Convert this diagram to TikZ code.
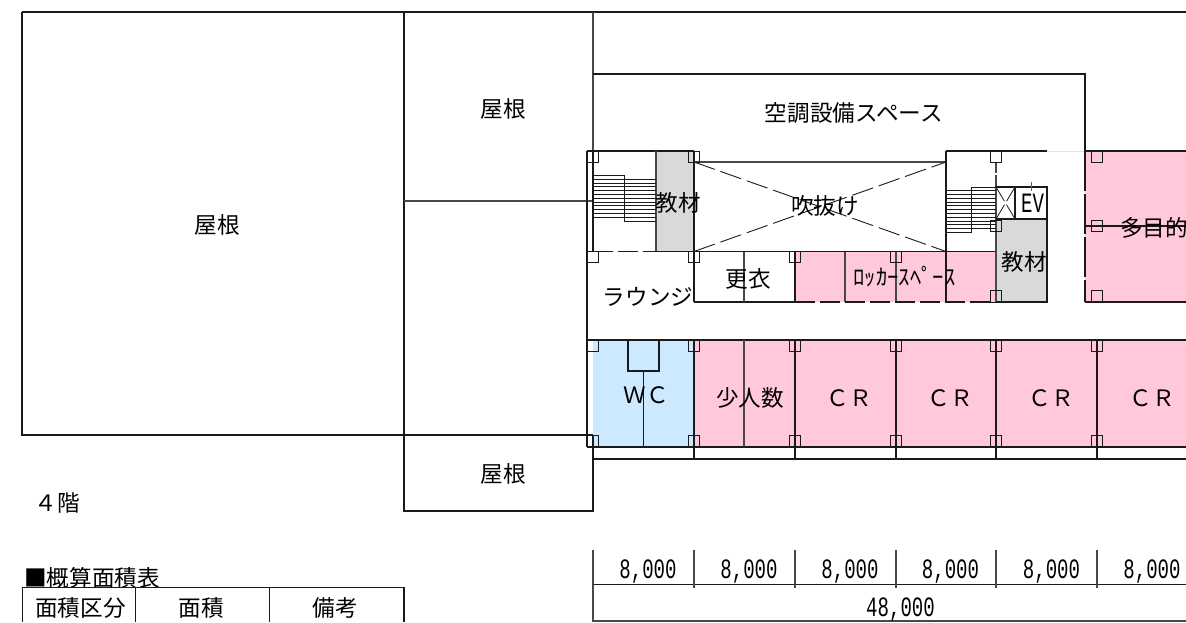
\documentclass[tikz,border=0pt]{standalone}
\usepackage{fontspec}
\setmainfont{Noto Sans CJK JP}
\newfontfamily\narrowfont[FakeStretch=0.68]{Liberation Mono}
\definecolor{roompink}{HTML}{FFC8DD}
\definecolor{roomblue}{HTML}{CCE9FF}
\definecolor{roomgray}{HTML}{D9D9D9}
\definecolor{ink}{HTML}{1A1A1A}
\tikzset{
  wall/.style={draw=ink,line width=1.15pt},
  thin wall/.style={draw=ink!80,line width=1.05pt},
  dashwall/.style={draw=ink,line width=1.15pt,dash pattern=on 20pt off 5pt},
  voidline/.style={draw=ink,line width=0.9pt,dash pattern=on 22pt off 6pt},
  column/.style={draw=ink,line width=1pt},
  stairline/.style={draw=ink,line width=0.85pt},
  label/.style={inner sep=0pt,font=\fontsize{22.6}{22}\selectfont,text=black},
  dimlabel/.style={inner sep=0pt,font=\narrowfont\fontsize{28}{28}\selectfont,text=black},
}
\newcommand{\colsq}[2]{\draw[column] (#1-5.7,#2) rectangle (#1+5.7,#2+11.3);}
\begin{document}
\begin{tikzpicture}[x=1pt,y=-1pt]
\useasboundingbox (0,0) rectangle (1186,622);
\clip (0,0) rectangle (1186,622);
% fills
\fill[roomgray] (656,151) rectangle (694,251.5);
\fill[roomgray] (996,219) rectangle (1047,302);
\fill[roompink] (795,251.5) rectangle (996,302);
\fill[roompink] (1085,151) rectangle (1186,302);
\fill[roomblue] (593,340) rectangle (694,447);
\fill[roompink] (694,340) rectangle (1186,447);
% roof outlines
\draw[wall] (22,12) -- (1186,12);
\draw[wall] (22,12) -- (22,435) -- (593,435);
\draw[wall] (404,12) -- (404,511) -- (593,511) -- (593,435);
\draw[thin wall] (593,12) -- (593,151);
\draw[thin wall] (404,201) -- (593,201);
\draw[wall] (593,74) -- (1085,74) -- (1085,151);
% core left
\draw[wall] (587,151) -- (694,151);
\draw[wall] (587,151) -- (587,447);
\draw[wall] (593,151) -- (593,251.5);
\draw[thin wall] (656,151) -- (656,251.5);
\draw[wall] (694,151) -- (694,302);
\draw[dashwall] (593,251.5) -- (656,251.5);
\draw[wall] (656,251.5) -- (996,251.5);
% atrium
\draw[thin wall] (694,162) -- (946,162);
\draw[voidline] (694,162) -- (946,251.5);
\draw[voidline] (694,251.5) -- (946,162);
% left stair
\foreach \yy in {179.3,183.1,186.9,190.7,194.5,198.3,202.1,205.9,209.7,213.5,217.3} {\draw[stairline] (593,\yy) -- (656,\yy);}
\draw[stairline] (593,175.7) -- (624,175.7) -- (624,221.3) -- (656,221.3);
% changing room and lockers
\draw[wall] (694,302) -- (795,302);
\draw[thin wall] (744,251.5) -- (744,302);
\draw[wall] (795,251.5) -- (795,302);
\draw[thin wall] (845,251.5) -- (845,302);
\draw[thin wall] (896,251.5) -- (896,302);
\draw[dashwall] (795,302) -- (996,302);
% right core
\draw[wall] (946,151) -- (1047,151);
\draw[draw=ink!12,line width=1pt] (1047,151) -- (1085,151);
\draw[wall] (946,151) -- (946,302);
\draw[thin wall,dash pattern=on 11pt off 2pt on 130pt] (996,162) -- (996,302);
\draw[wall] (996,187) -- (1047,187) -- (1047,302) -- (996,302);
\draw[wall] (996,219) -- (1047,219);
\draw[wall] (1015,187) -- (1015,219);
\draw[draw=ink,line width=0.8pt,dash pattern=on 16.5pt off 4pt] (996,187) -- (1015,219);
\draw[draw=ink,line width=0.8pt,dash pattern=on 16.5pt off 4pt] (1015,187) -- (996,219);
\draw[draw=ink!70,line width=0.9pt] (1031,182) -- (1031,191);
% right stair
\foreach \yy in {190.7,194.5,198.3,202.1,205.9,209.7,213.5,217.3,221.1,224.9,228.7} {\draw[stairline] (946,\yy) -- (996,\yy);}
\draw[stairline] (996,187) -- (971,187) -- (971,232.4) -- (946,232.4);
% multipurpose
\draw[wall] (1085,151) -- (1186,151);
\draw[wall] (1085,302) -- (1186,302);
\draw[wall,dash pattern=on 40pt off 3pt] (1085,151) -- (1085,302);
\draw[wall] (1085,226) -- (1186,226);
% class row
\draw[wall] (587,340) -- (1186,340);
\draw[wall] (587,447) -- (1186,447);
\draw[wall] (593,459) -- (1186,459);
\draw[wall] (593,435) -- (593,459);
\foreach \xx in {694,795,896,996,1097} {\draw[wall] (\xx,340) -- (\xx,459);}
\draw[thin wall] (744,340) -- (744,447);
\draw[wall] (628,340) rectangle (659,371);
\draw[wall] (643.5,371) -- (643.5,447);
% columns
\foreach \xx in {593,694,795,896,996,1097} {\colsq{\xx}{340}\colsq{\xx}{435.7}}
\foreach \xx in {593,694} {\colsq{\xx}{151}\colsq{\xx}{251.5}}
\colsq{795}{251.5}\colsq{896}{251.5}
\colsq{996}{151}\colsq{996}{220.5}\colsq{996}{290.7}
\colsq{1097}{151}\colsq{1097}{220.5}\colsq{1097}{290.7}
% labels
\node[label] (roofa) at (217,225) {屋根};
\node[label] (roofb) at (503,109) {屋根};
\node[label] (roofc) at (503,474) {屋根};
\node[label] (plant) at (854,113) {空調設備スペース};
\node[label] (matl) at (678,203) {教材};
\node[label] (void) at (825,206) {吹抜け};
\node[label] (change) at (748,279) {更衣};
\node[label] (lounge) at (648,297) {ラウンジ};
\node[label] (locker) at (904.5,277) {ﾛｯｶｰｽﾍﾟｰｽ};
\node[label] (matr) at (1024.5,262) {教材};
\node[dimlabel] (ev) at (1032.5,203) {EV};
\node[label] (multi) at (1154,228) {多目的};
\node[label] (wc) at (646,395) {ＷＣ};
\node[label] (small) at (750,398) {少人数};
\foreach \xx/\nn in {849/a,950/b,1051/c,1152/d} {\node[label] (cr\nn) at (\xx,398) {ＣＲ};}
\node[label] (floor) at (57,503) {４階};
\node[label,anchor=west] (title) at (24,578) {■概算面積表};
% area table
\draw[wall] (22.5,622) -- (22.5,587.7) -- (404,587.7) -- (404,622);
\draw[wall] (135.5,587.7) -- (135.5,622);
\draw[wall] (269.5,587.7) -- (269.5,622);
\node[label] (ha) at (80.5,608) {面積区分};
\node[label] (hb) at (201,608) {面積};
\node[label] (hc) at (335,608) {備考};
% dimensions
\draw[wall] (593,584.5) -- (1186,584.5);
\foreach \xx in {694,795,896,996,1097} {\draw[thin wall] (\xx,550) -- (\xx,588);}
\draw[thin wall] (593,550) -- (593,621) -- (1186,621);
\foreach \xx/\nn in {648/a,749/b,850/c,950.5/d,1051.5/e,1152/f} {\node[dimlabel] (dim\nn) at (\xx,572) {8,000};}
\node[dimlabel] (dimt) at (900.5,610) {48,000};
\end{tikzpicture}
\end{document}
